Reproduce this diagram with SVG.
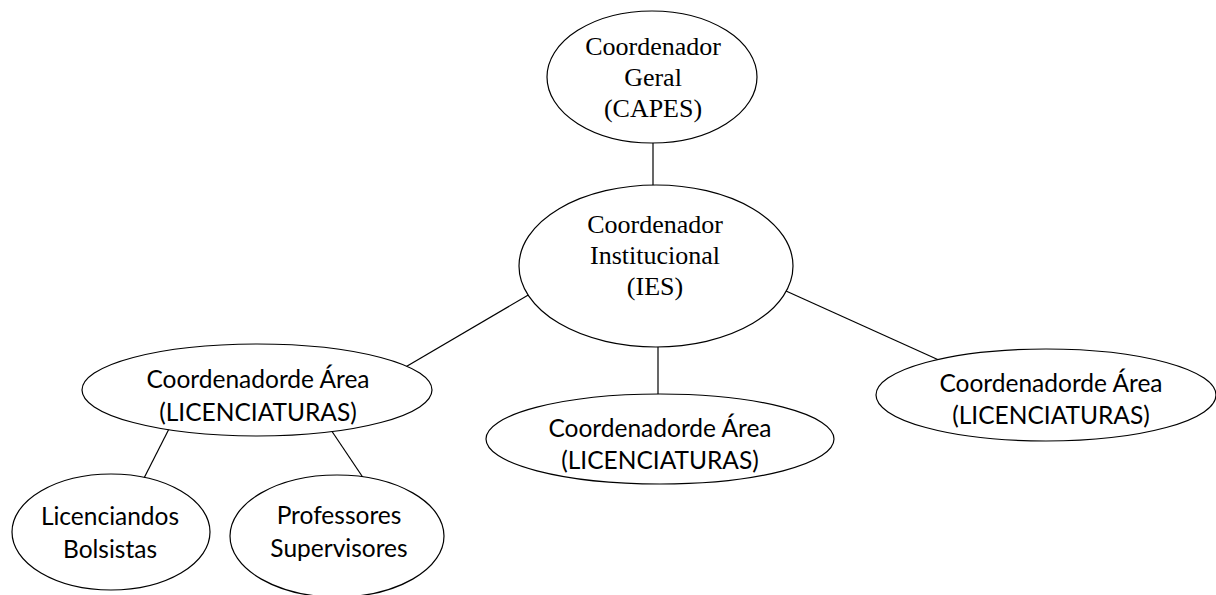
<svg xmlns="http://www.w3.org/2000/svg" width="1216" height="595" viewBox="0 0 1216 595">
<style>
.n{fill:#fff;stroke:#000;stroke-width:1.2}
.c{stroke:#000;stroke-width:1.2;fill:none}
.s{font-family:"Liberation Serif",serif;font-size:26px;text-anchor:middle;fill:#000}
.k{font-family:Lato,"Open Sans",sans-serif;font-size:24.5px;text-anchor:middle;fill:#000}
</style>
<rect width="1216" height="595" fill="#fff"/>
<g id="connectors">
<line class="c" x1="653" y1="143" x2="653" y2="186"/>
<line class="c" x1="658" y1="347" x2="658" y2="396"/>
<line class="c" x1="530" y1="294" x2="397" y2="372"/>
<line class="c" x1="786" y1="291" x2="941" y2="361"/>
<line class="c" x1="172" y1="423" x2="141" y2="484"/>
<line class="c" x1="325" y1="421" x2="366" y2="482"/>
</g>
<g id="n-geral">
<ellipse class="n" cx="652" cy="77" rx="105" ry="66"/>
<text class="s" x="653" y="55">Coordenador</text>
<text class="s" x="653" y="86">Geral</text>
<text class="s" x="653" y="117">(CAPES)</text>
</g>
<g id="n-inst">
<ellipse class="n" cx="656" cy="266" rx="137" ry="81"/>
<text class="s" x="655" y="233">Coordenador</text>
<text class="s" x="655" y="264">Institucional</text>
<text class="s" x="655" y="295">(IES)</text>
</g>
<g id="n-area-left">
<ellipse class="n" cx="257" cy="390" rx="175" ry="46"/>
<text class="k" x="258" y="388">Coordenadorde Área</text>
<text class="k" x="258" y="421">(LICENCIATURAS)</text>
</g>
<g id="n-area-mid">
<ellipse class="n" cx="660" cy="439" rx="174" ry="45"/>
<text class="k" x="660" y="437">Coordenadorde Área</text>
<text class="k" x="660" y="469">(LICENCIATURAS)</text>
</g>
<g id="n-area-right">
<ellipse class="n" cx="1046" cy="395" rx="170" ry="46"/>
<text class="k" x="1051" y="392">Coordenadorde Área</text>
<text class="k" x="1051" y="424">(LICENCIATURAS)</text>
</g>
<g id="n-licenciandos">
<ellipse class="n" cx="111" cy="532" rx="99" ry="58"/>
<text class="k" x="110" y="525">Licenciandos</text>
<text class="k" x="110" y="558">Bolsistas</text>
</g>
<g id="n-professores">
<ellipse class="n" cx="337" cy="536" rx="107" ry="61"/>
<text class="k" x="339" y="524">Professores</text>
<text class="k" x="339" y="557">Supervisores</text>
</g>
</svg>
